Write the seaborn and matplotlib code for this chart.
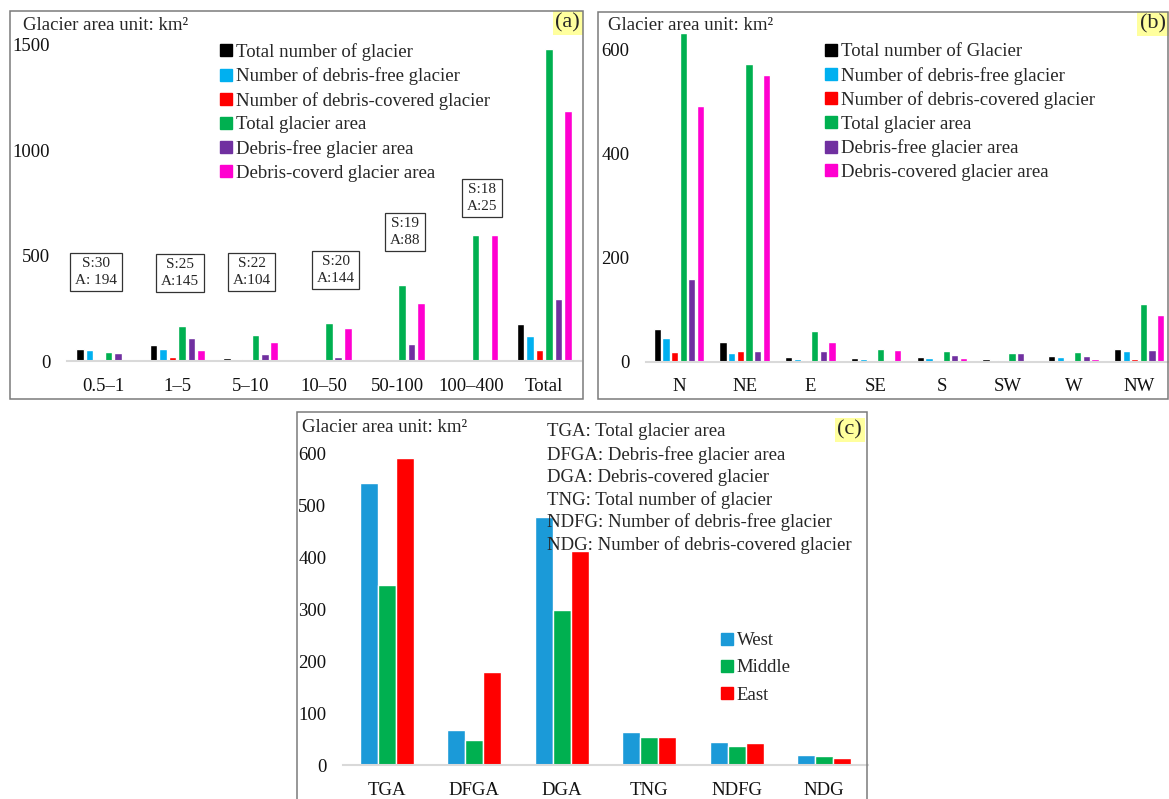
import matplotlib
matplotlib.use("Agg")
import matplotlib.pyplot as plt
import seaborn as sns
import pandas as pd
from matplotlib.lines import Line2D
from matplotlib.patches import Rectangle

# ---------------- data ----------------
# (a) glacier statistics by area class
size_classes = ["0.5–1", "1–5", "5–10", "10–50", "50-100", "100–400", "Total"]
size_total_number = [58, 77, 14, 6, 3, 0, 176]
size_debris_free_number = [50, 55, 2, 0, 0, 0, 119]
size_debris_covered_number = [7, 17, 10, 3, 2, 0, 51]
size_total_area = [42, 168, 125, 182, 360, 597, 1479]
size_debris_free_area = [36, 109, 32, 20, 82, 0, 294]
size_debris_covered_area = [3, 54, 88, 157, 276, 597, 1187]
size_series = ["Total number of glacier", "Number of debris-free glacier",
               "Number of debris-covered glacier", "Total glacier area",
               "Debris-free glacier area", "Debris-coverd glacier area"]
size_boxes = ["S:30\nA: 194", "S:25\nA:145", "S:22\nA:104",
              "S:20\nA:144", "S:19\nA:88", "S:18\nA:25"]

# (b) glacier statistics by aspect
aspects = ["N", "NE", "E", "SE", "S", "SW", "W", "NW"]
aspect_total_number = [63, 37, 10, 7, 9, 5, 11, 24]
aspect_debris_free_number = [46, 16, 5, 5, 7, 4, 9, 21]
aspect_debris_covered_number = [18, 20, 4, 0, 0, 0, 2, 5]
aspect_total_area = [632, 574, 60, 24, 21, 17, 19, 112]
aspect_debris_free_area = [159, 21, 21, 0, 13, 17, 11, 22]
aspect_debris_covered_area = [492, 551, 37, 23, 8, 0, 6, 89]
aspect_series = ["Total number of Glacier", "Number of debris-free glacier",
                 "Number of debris-covered glacier", "Total glacier area",
                 "Debris-free glacier area", "Debris-covered glacier area"]

# (c) glacier statistics by region
metrics = ["TGA", "DFGA", "DGA", "TNG", "NDFG", "NDG"]
west = [543, 68, 476, 64, 45, 19]
middle = [347, 49, 299, 54, 36, 17]
east = [591, 179, 412, 54, 42, 14]
regions = ["West", "Middle", "East"]
abbreviations = ["TGA: Total glacier area",
                 "DFGA: Debris-free glacier area",
                 "DGA: Debris-covered glacier",
                 "TNG: Total number of glacier",
                 "NDFG: Number of debris-free glacier",
                 "NDG: Number of debris-covered glacier"]

six_colors = ["#000000", "#00b0f0", "#ff0000", "#00b050", "#7030a0", "#ff00d0"]
region_colors = ["#1b9ad8", "#00b050", "#ff0000"]

# ---------------- style ----------------
sns.set_theme(style="white")
plt.rcParams["font.family"] = ["Liberation Serif", "DejaVu Serif"]
FS = 13.5

W, H = 1169, 799
fig = plt.figure(figsize=(W / 100, H / 100), dpi=100)


def px_axes(left, right, top, bottom):
    return fig.add_axes([left / W, 1 - bottom / H, (right - left) / W, (bottom - top) / H])


def frame(x0, y0, x1, y1):
    fig.add_artist(Rectangle((x0 / W, 1 - y1 / H), (x1 - x0) / W, (y1 - y0) / H,
                             transform=fig.transFigure, fill=False,
                             ec="#7a7a7a", lw=1.1, zorder=10))


def long_frame(cats, names, columns):
    rows = []
    for name, col in zip(names, columns):
        for c, v in zip(cats, col):
            rows.append({"cat": c, "series": name, "value": v})
    return pd.DataFrame(rows)


def style_axes(ax, ymax, yticks, ncat):
    ax.set_ylim(0, ymax)
    ax.set_xlim(-0.5, ncat - 0.5)
    ax.set_yticks(yticks)
    ax.set_xlabel("")
    ax.set_ylabel("")
    for s in ["top", "right", "left"]:
        ax.spines[s].set_visible(False)
    ax.spines["bottom"].set_color("#d9d9d9")
    ax.spines["bottom"].set_linewidth(1.5)
    ax.tick_params(axis="both", length=0, labelsize=FS, colors="#111111")
    ax.tick_params(axis="y", pad=12)
    ax.tick_params(axis="x", pad=12)
    ax.set_facecolor("none")
    ax.grid(False)


def add_legend(ax, labels, colors, x, y, spacing):
    handles = [Line2D([], [], marker="s", ls="", color=c, markersize=8) for c in colors]
    ax.legend(handles, labels, loc="upper left", bbox_to_anchor=(x / W, 1 - y / H),
              bbox_transform=fig.transFigure, frameon=False, fontsize=FS,
              borderpad=0, borderaxespad=0, handlelength=0.6, handletextpad=0.25,
              labelspacing=spacing)


def panel_tag(text, x, y):
    fig.text(x / W, 1 - y / H, text, ha="right", va="center", fontsize=16,
             bbox=dict(boxstyle="square,pad=0.12", fc="#ffff9e", ec="none"))


# ---------------- (a) ----------------
frame(10, 11, 583, 399)
ax_a = px_axes(67, 581, 361 - 1600 * 0.2107, 361)
df_a = long_frame(size_classes, size_series,
                  [size_total_number, size_debris_free_number, size_debris_covered_number,
                   size_total_area, size_debris_free_area, size_debris_covered_area])
sns.barplot(data=df_a, x="cat", y="value", hue="series", order=size_classes,
            hue_order=size_series, palette=six_colors, saturation=1,
            width=0.775, gap=0.2, legend=False, ax=ax_a)
style_axes(ax_a, 1600, [0, 500, 1000, 1500], len(size_classes))
box_pos = [(-0.105, 422), (1.037, 418), (2.017, 422), (3.16, 432), (4.1, 612), (5.15, 774)]
for (bx, by), txt in zip(box_pos, size_boxes):
    ax_a.text(bx, by, txt, ha="center", va="center", fontsize=11, linespacing=1.35,
              bbox=dict(boxstyle="square,pad=0.3", fc="white", ec="#333333", lw=0.9))
add_legend(ax_a, size_series, six_colors, 220, 43, 0.35)
fig.text(23 / W, 1 - 25.5 / H, "Glacier area unit: km²", ha="left", va="center", fontsize=FS)
panel_tag("(a)", 580, 23)

# ---------------- (b) ----------------
frame(598, 12, 1168, 399)
ax_b = px_axes(646, 1172, 361.7 - 650 * 0.5195, 361.7)
df_b = long_frame(aspects, aspect_series,
                  [aspect_total_number, aspect_debris_free_number, aspect_debris_covered_number,
                   aspect_total_area, aspect_debris_free_area, aspect_debris_covered_area])
sns.barplot(data=df_b, x="cat", y="value", hue="series", order=aspects,
            hue_order=aspect_series, palette=six_colors, saturation=1,
            width=0.79, gap=0.16, legend=False, ax=ax_b)
style_axes(ax_b, 650, [0, 200, 400, 600], len(aspects))
add_legend(ax_b, aspect_series, six_colors, 825, 43, 0.35)
fig.text(608 / W, 1 - 25.5 / H, "Glacier area unit: km²", ha="left", va="center", fontsize=FS)
panel_tag("(b)", 1166, 24)

# ---------------- (c) ----------------
frame(297, 412, 867, 805)
ax_c = px_axes(343, 868, 765 - 650 * 0.52, 765)
df_c = long_frame(metrics, regions, [west, middle, east])
sns.barplot(data=df_c, x="cat", y="value", hue="series", order=metrics,
            hue_order=regions, palette=region_colors, saturation=1,
            width=0.62, gap=0, legend=False, ax=ax_c)
style_axes(ax_c, 650, [0, 100, 200, 300, 400, 500, 600], len(metrics))
add_legend(ax_c, regions, region_colors, 721, 632, 0.54)
fig.text(302 / W, 1 - 427 / H, "Glacier area unit: km²", ha="left", va="center", fontsize=FS)
for i, line in enumerate(abbreviations):
    fig.text(547 / W, 1 - (432 + 22.6 * i) / H, line, ha="left", va="center", fontsize=FS)
panel_tag("(c)", 862, 430)

fig.savefig("out.png", dpi=100, facecolor="white")
